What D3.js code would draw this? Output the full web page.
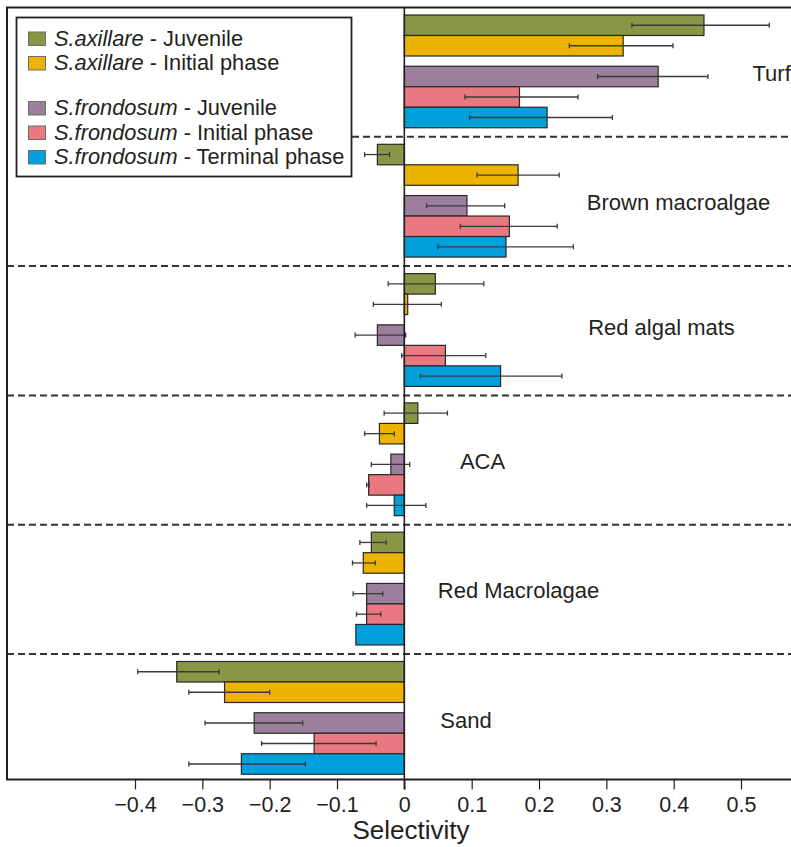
<!DOCTYPE html>
<html>
<head>
<meta charset="utf-8">
<script src="https://cdn.jsdelivr.net/npm/d3@7"></script>
<style>
  body { margin: 0; background: #fff; }
  text { font-family: "Liberation Sans", Arial, sans-serif; fill: #231f20; }
</style>
</head>
<body>
<div id="chart"></div>
<script>
var width = 791,
  height = 847;

// categories (top to bottom)
var categories = ['Turf', 'Brown macroalgae', 'Red algal mats', 'ACA', 'Red Macrolagae', 'Sand'];

// series
var species = ['S.axillare', 'S.axillare', 'S.frondosum', 'S.frondosum', 'S.frondosum'];
var phases = ['Juvenile', 'Initial phase', 'Juvenile', 'Initial phase', 'Terminal phase'];
var colors = ['#889645', '#ecb300', '#9c7f9d', '#ea7880', '#00a0dc'];

// selectivity means and error bar ends, per category
var axJuv = [0.445, -0.040, 0.046, 0.020, -0.049, -0.338];
var axJuvLo = [0.338, -0.059, -0.024, -0.030, -0.066, -0.396];
var axJuvHi = [0.542, -0.022, 0.118, 0.064, -0.027, -0.275];

var axIni = [0.325, 0.169, 0.005, -0.037, -0.061, -0.267];
var axIniLo = [0.245, 0.108, -0.046, -0.059, -0.077, -0.320];
var axIniHi = [0.399, 0.230, 0.055, -0.015, -0.043, -0.200];

var frJuv = [0.377, 0.093, -0.040, -0.020, -0.056, -0.223];
var frJuvLo = [0.287, 0.033, -0.073, -0.049, -0.076, -0.296];
var frJuvHi = [0.451, 0.149, 0.002, 0.008, -0.032, -0.151];

var frIni = [0.171, 0.156, 0.061, -0.053, -0.056, -0.134];
var frIniLo = [0.090, 0.083, -0.004, -0.056, -0.071, -0.212];
var frIniHi = [0.258, 0.227, 0.121, -0.052, -0.035, -0.042];

var frTer = [0.212, 0.151, 0.143, -0.015, -0.072, -0.242];
var frTerLo = [0.097, 0.050, 0.024, -0.056, null, -0.320];
var frTerHi = [0.309, 0.251, 0.234, 0.032, null, -0.147];

var xTicks = [-0.4, -0.3, -0.2, -0.1, 0, 0.1, 0.2, 0.3, 0.4, 0.5];

var values = [axJuv, axIni, frJuv, frIni, frTer];
var lows = [axJuvLo, axIniLo, frJuvLo, frIniLo, frTerLo];
var highs = [axJuvHi, axIniHi, frJuvHi, frIniHi, frTerHi];

// layout
var frameLeft = 7, frameTop = 7.5, frameBottom = 779.5;
var slots = [0, 1, 2.5, 3.5, 4.5];
var barH = 20.5;
var labelX = [752.5, 678.5, 661.5, 482.5, 518.5, 466];
var labelAnchor = ['start', 'middle', 'middle', 'middle', 'middle', 'middle'];
var labelDy = [73, 73, 69, 73.5, 73.5, 73.5];

var x = d3.scaleLinear()
  .domain([-0.4, 0.5])
  .range([135, 741]);

var y = d3.scaleBand()
  .domain(categories)
  .range([frameTop, frameTop + 6 * 129.3]);

var yIn = d3.scaleLinear()
  .domain([0, 5.5])
  .range([7.5, 7.5 + 5.5 * barH]);

var svg = d3.select('#chart')
  .append('svg')
  .attr('width', width)
  .attr('height', height);

// frame
svg.append('path')
  .attr('d', 'M' + (width + 5) + ',' + frameTop + 'H' + frameLeft + 'V' + frameBottom + 'H' + (width + 5))
  .attr('fill', 'none')
  .attr('stroke', '#231f20')
  .attr('stroke-width', 2);

// dashed separators
svg.selectAll('.sep')
  .data(categories.slice(1))
  .enter()
  .append('line')
  .attr('class', 'sep')
  .attr('x1', function (d, i) { return i === 0 ? 352 : frameLeft; })
  .attr('x2', width)
  .attr('y1', function (d) { return y(d); })
  .attr('y2', function (d) { return y(d); })
  .attr('stroke', '#3b302c')
  .attr('stroke-width', 2)
  .attr('stroke-dasharray', '7,4');

// flatten bars
var bars = [];
values.forEach(function (vals, s) {
  vals.forEach(function (v, c) {
    bars.push({ s: s, cat: categories[c], v: v, lo: lows[s][c], hi: highs[s][c] });
  });
});

function barTop(d) { return y(d.cat) + yIn(slots[d.s]); }

svg.selectAll('.bar')
  .data(bars)
  .enter()
  .append('rect')
  .attr('class', 'bar')
  .attr('x', function (d) { return x(Math.min(0, d.v)); })
  .attr('width', function (d) { return Math.abs(x(d.v) - x(0)); })
  .attr('y', barTop)
  .attr('height', barH)
  .attr('fill', function (d) { return colors[d.s]; })
  .attr('stroke', '#2b2627')
  .attr('stroke-width', 1.2);

// error bars
var errs = svg.selectAll('.err')
  .data(bars.filter(function (d) { return d.lo != null; }))
  .enter()
  .append('g')
  .attr('class', 'err')
  .attr('stroke', '#3a3a3a')
  .attr('stroke-width', 1.3);

errs.append('line')
  .attr('x1', function (d) { return x(d.lo); })
  .attr('x2', function (d) { return x(d.hi); })
  .attr('y1', function (d) { return barTop(d) + barH / 2; })
  .attr('y2', function (d) { return barTop(d) + barH / 2; });

errs.selectAll('.cap')
  .data(function (d) { return [[d.lo, d], [d.hi, d]]; })
  .enter()
  .append('line')
  .attr('x1', function (p) { return x(p[0]); })
  .attr('x2', function (p) { return x(p[0]); })
  .attr('y1', function (p) { return barTop(p[1]) + barH / 2 - 2.5; })
  .attr('y2', function (p) { return barTop(p[1]) + barH / 2 + 2.5; });

// zero line
svg.append('line')
  .attr('x1', x(0))
  .attr('x2', x(0))
  .attr('y1', frameTop)
  .attr('y2', frameBottom + 10)
  .attr('stroke', '#231f20')
  .attr('stroke-width', 1.6);

// x axis
var axis = svg.append('g')
  .attr('transform', 'translate(0,' + frameBottom + ')')
  .call(d3.axisBottom(x)
    .tickValues(xTicks)
    .tickSize(10)
    .tickPadding(7)
    .tickFormat(function (d) { return d === 0 ? '0' : d3.format('.1f')(d); }));

axis.select('.domain').remove();
axis.selectAll('.tick line').attr('stroke', '#231f20').attr('stroke-width', 1.2);
axis.selectAll('.tick text')
  .attr('font-size', 21.5)
  .attr('font-family', '"Liberation Sans", Arial, sans-serif')
  .attr('fill', '#231f20');

svg.append('text')
  .attr('x', 411)
  .attr('y', 839)
  .attr('text-anchor', 'middle')
  .attr('font-size', 26)
  .text('Selectivity');

// category labels
svg.selectAll('.catlabel')
  .data(categories)
  .enter()
  .append('text')
  .attr('class', 'catlabel')
  .attr('x', function (d, i) { return labelX[i]; })
  .attr('y', function (d, i) { return y(d) + labelDy[i]; })
  .attr('text-anchor', function (d, i) { return labelAnchor[i]; })
  .attr('font-size', 22)
  .text(function (d) { return d; });

// legend
var legend = svg.append('g');

legend.append('rect')
  .attr('x', 16.5)
  .attr('y', 17.5)
  .attr('width', 335)
  .attr('height', 159)
  .attr('fill', '#fff')
  .attr('stroke', '#231f20')
  .attr('stroke-width', 1.8);

var legendRows = [45.5, 70, 115, 139.5, 164];

var item = legend.selectAll('.item')
  .data(species)
  .enter()
  .append('g')
  .attr('class', 'item')
  .attr('transform', function (d, i) { return 'translate(0,' + legendRows[i] + ')'; });

item.append('rect')
  .attr('x', 28.5)
  .attr('y', -13.5)
  .attr('width', 17)
  .attr('height', 13.5)
  .attr('fill', function (d, i) { return colors[i]; })
  .attr('stroke', '#6d6d6d')
  .attr('stroke-width', 1);

var lt = item.append('text')
  .attr('x', 54)
  .attr('y', 0)
  .attr('font-size', 21.8);

lt.append('tspan')
  .attr('font-style', 'italic')
  .text(function (d) { return d; });

lt.append('tspan')
  .text(function (d, i) { return ' - ' + phases[i]; });
</script>
</body>
</html>
